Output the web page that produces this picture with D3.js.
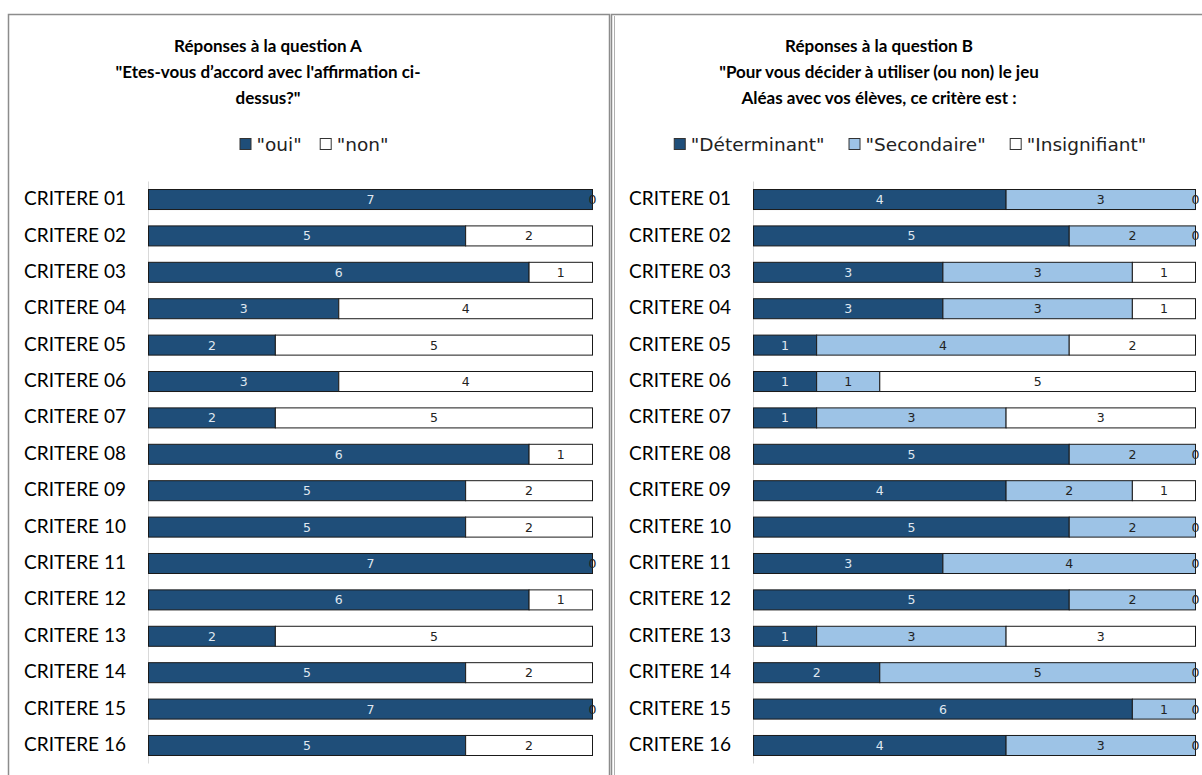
<!DOCTYPE html>
<html><head><meta charset="utf-8">
<script src="https://cdn.jsdelivr.net/npm/d3@7"></script>
<style>
html,body{margin:0;padding:0;background:#fff;}
svg{display:block;}
</style></head>
<body>
<svg id="c" width="1202" height="775"></svg>
<script>
const categories = ["CRITERE 01","CRITERE 02","CRITERE 03","CRITERE 04","CRITERE 05","CRITERE 06","CRITERE 07","CRITERE 08","CRITERE 09","CRITERE 10","CRITERE 11","CRITERE 12","CRITERE 13","CRITERE 14","CRITERE 15","CRITERE 16"];
const seriesA = ['"oui"','"non"'];
const ouiA = [7,5,6,3,2,3,2,6,5,5,7,6,2,5,7,5];
const nonA = [0,2,1,4,5,4,5,1,2,2,0,1,5,2,0,2];
const seriesB = ['"Déterminant"','"Secondaire"','"Insignifiant"'];
const detB = [4,5,3,3,1,1,1,5,4,5,3,5,1,2,6,4];
const secB = [3,2,3,3,4,1,3,2,2,2,4,2,3,5,1,3];
const insB = [0,0,1,1,2,5,3,0,1,0,0,0,3,0,0,0];
const titleA = ["Réponses à la question A","\"Etes-vous d’accord avec l'affirmation ci-","dessus?\""];
const titleB = ["Réponses à la question B","\"Pour vous décider à utiliser (ou non) le jeu","Aléas avec vos élèves, ce critère est :"];

const DARK = "#1f4e79", LIGHT = "#9dc3e6", WHITE = "#ffffff";
const svg = d3.select("#c");

// panel frames
svg.append("rect").attr("x",8.5).attr("y",14.5).attr("width",601).attr("height",800)
  .attr("fill","none").attr("stroke","#8c8c8c").attr("stroke-width",1.5);
svg.append("rect").attr("x",611.5).attr("y",14.5).attr("width",620).attr("height",800)
  .attr("fill","none").attr("stroke","#8c8c8c").attr("stroke-width",1.5);
svg.append("line").attr("x1",614.5).attr("x2",614.5).attr("y1",16).attr("y2",775)
  .attr("stroke","#b0b0b0").attr("stroke-width",1);

function panel(cfg){
  const g = svg.append("g");
  // title
  const t = g.append("text").attr("text-anchor","middle")
    .attr("font-family","Lato, 'Open Sans', sans-serif").attr("font-weight","bold")
    .attr("font-size",17).attr("fill","#000");
  cfg.title.forEach((s,i)=>t.append("tspan").attr("x",cfg.titleCx).attr("y",52+i*26).text(s));

  // legend
  const lg = g.append("g");
  let x = 0;
  cfg.series.forEach((s,i)=>{
    const it = lg.append("g").attr("transform",`translate(${x},0)`);
    it.append("rect").attr("x",0.5).attr("y",-12.5).attr("width",11).attr("height",11)
      .attr("fill",cfg.colors[i]).attr("stroke","#333").attr("stroke-width",1);
    const tx = it.append("text").attr("x",17).attr("y",0)
      .attr("font-family","'DejaVu Sans', sans-serif").attr("font-size",18.5).attr("fill","#222").text(s);
    x += 17 + tx.node().getComputedTextLength() + cfg.legendGap;
  });
  const lw = x - cfg.legendGap;
  lg.attr("transform",`translate(${cfg.legendCx - lw/2},151)`);

  // scales
  const xS = d3.scaleLinear().domain([0,7]).range([cfg.x0, cfg.x1]);
  const yS = d3.scaleBand().domain(categories).range([181, 763]).paddingInner(0.45).paddingOuter(0.22);

  // axis (category)
  const ax = g.append("g").attr("transform",`translate(${cfg.x0},0)`)
    .call(d3.axisLeft(yS).tickSize(0).tickPadding(22));
  ax.select(".domain").attr("stroke","#d9d9d9").attr("stroke-width",1);
  ax.selectAll("text").attr("font-family","Lato, 'Open Sans', sans-serif").attr("font-size",19).attr("fill","#000");

  const stack = d3.stack().keys(d3.range(cfg.values.length));
  const rows = categories.map((c,i)=>{ const o={cat:c}; cfg.values.forEach((v,k)=>o[k]=v[i]); return o; });
  const layers = stack(rows);
  layers.forEach((layer,k)=>{
    const lg2 = g.append("g");
    lg2.selectAll("rect").data(layer).join("rect")
      .attr("x",d=>xS(d[0])+0.5).attr("y",d=>yS(d.data.cat)+0.5)
      .attr("width",d=>Math.max(0,xS(d[1])-xS(d[0])))
      .attr("height",yS.bandwidth())
      .attr("fill",cfg.colors[k]).attr("stroke",d=>(d[1]-d[0])>0?"#1a1a1a":"none").attr("stroke-width",1);
  });
  layers.forEach((layer,k)=>{
    g.append("g").selectAll("text").data(layer.filter(d=>(d[1]-d[0])>0 || k===cfg.values.length-1)).join("text")
      .attr("x",d=>(xS(d[0])+xS(d[1]))/2+0.5)
      .attr("y",d=>yS(d.data.cat)+yS.bandwidth()/2+5)
      .attr("text-anchor","middle")
      .attr("font-family","'DejaVu Sans', sans-serif").attr("font-size",12.5)
      .attr("fill",k===0?"#dfe7f0":"#222")
      .text(d=>d[1]-d[0]);
  });
}

panel({title:titleA,titleCx:268,series:seriesA,colors:[DARK,WHITE],legendCx:314,legendGap:18,
  x0:148,x1:592,values:[ouiA,nonA]});
panel({title:titleB,titleCx:879,series:seriesB,colors:[DARK,LIGHT,WHITE],legendCx:910,legendGap:24,
  x0:753,x1:1195,values:[detB,secB,insB]});
</script>
</body></html>
